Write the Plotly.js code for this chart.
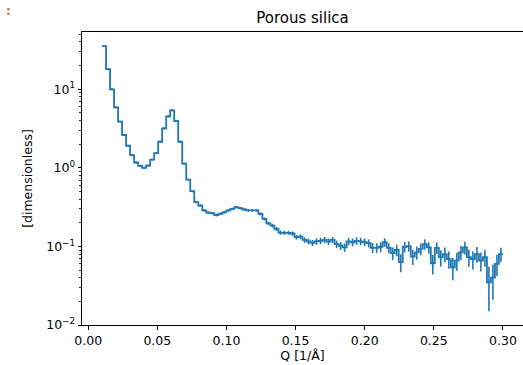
<!DOCTYPE html>
<html>
<head>
<meta charset="utf-8">
<script src="https://cdn.plot.ly/plotly-3.0.1.min.js"></script>
<style>html,body{margin:0;padding:0;background:#fff;}#chart{width:523px;height:365px;}</style>
</head>
<body>
<div id="chart"></div>
<script>
// Q range of the histogram (1/Å) and number of bins
const qMin = 0.01;
const qMax = 0.30;
// Intensity per bin [dimensionless]
const intensity = [
  35.4, 18.0, 10.0, 5.89, 3.87, 2.62, 1.91, 1.45, 1.17, 1.06,
  1.00, 1.07, 1.27, 1.54, 2.15, 3.18, 4.52, 5.4, 3.95, 2.15,
  1.13, 0.707, 0.505, 0.366, 0.332, 0.287, 0.270, 0.265, 0.250, 0.260,
  0.272, 0.287, 0.300, 0.316, 0.307, 0.295, 0.287, 0.287, 0.287, 0.260,
  0.224, 0.197, 0.184, 0.167, 0.150, 0.149, 0.149, 0.146, 0.131, 0.133,
  0.121, 0.116, 0.111, 0.116, 0.118, 0.121, 0.115, 0.121, 0.107, 0.102,
  0.097, 0.116, 0.113, 0.118, 0.116, 0.113, 0.110, 0.096, 0.096, 0.099,
  0.113, 0.096, 0.082, 0.090, 0.063, 0.099, 0.101, 0.074, 0.084, 0.093,
  0.107, 0.097, 0.061, 0.096, 0.0726, 0.080, 0.069, 0.054, 0.066, 0.084,
  0.097, 0.073, 0.069, 0.080, 0.066, 0.073, 0.035, 0.040, 0.060, 0.080
];
// Standard deviation per bin
const errors = [
  1.0, 0.5, 0.3, 0.17, 0.11, 0.08, 0.06, 0.045, 0.035, 0.032,
  0.03, 0.032, 0.038, 0.046, 0.065, 0.095, 0.135, 0.16, 0.12, 0.065,
  0.035, 0.02, 0.016, 0.012, 0.011, 0.010, 0.010, 0.010, 0.010, 0.010,
  0.010, 0.010, 0.011, 0.011, 0.011, 0.011, 0.011, 0.011, 0.011, 0.011,
  0.010, 0.010, 0.010, 0.010, 0.009, 0.009, 0.009, 0.009, 0.009, 0.010,
  0.010, 0.010, 0.010, 0.011, 0.011, 0.011, 0.011, 0.011, 0.012, 0.012,
  0.012, 0.013, 0.013, 0.013, 0.013, 0.013, 0.013, 0.014, 0.014, 0.014,
  0.014, 0.014, 0.015, 0.015, 0.016, 0.015, 0.015, 0.016, 0.016, 0.016,
  0.016, 0.016, 0.017, 0.016, 0.017, 0.017, 0.017, 0.017, 0.017, 0.017,
  0.018, 0.018, 0.018, 0.018, 0.018, 0.018, 0.020, 0.019, 0.018, 0.016
];
const yTickVals = [0.01, 0.1, 1, 10];
const yTickText = ['10<sup>−2</sup>', '10<sup>−1</sup>', '10<sup>0</sup>', '10<sup>1</sup>'];
const xTickVals = [0.00, 0.05, 0.10, 0.15, 0.20, 0.25, 0.30];
const xTickText = ['0.00', '0.05', '0.10', '0.15', '0.20', '0.25', '0.30'];

const nBins = intensity.length;
const width = (qMax - qMin) / nBins;
const edges = [];
for (let i = 0; i <= nBins; i++) edges.push(qMin + i * width);
const centers = intensity.map((_, i) => qMin + (i + 0.5) * width);
const stepY = intensity.concat([intensity[nBins - 1]]);

const color = '#1f77b4';
const font = {family: 'DejaVu Sans, sans-serif', size: 12.5, color: '#000'};

const traces = [
  {x: edges, y: stepY, type: 'scatter', mode: 'lines',
   line: {shape: 'hv', color: color, width: 1.8}, hoverinfo: 'skip'},
  {x: centers, y: intensity, type: 'scatter', mode: 'markers',
   marker: {size: 1, color: color, opacity: 0},
   error_y: {type: 'data', array: errors, visible: true, color: color, thickness: 1.6, width: 0}}
];

const layout = {
  width: 523, height: 365,
  margin: {l: 82, r: 0, t: 32, b: 40},
  paper_bgcolor: '#fff', plot_bgcolor: '#fff',
  showlegend: false,
  font: font,
  title: {text: 'Porous silica', font: {family: 'DejaVu Sans, sans-serif', size: 15, color: '#000'},
          x: 0.5, xref: 'paper', xanchor: 'center', y: 0.951, yref: 'container', yanchor: 'middle'},
  xaxis: {
    range: [-0.0045, 0.3145], tickvals: xTickVals, ticktext: xTickText,
    ticks: 'outside', ticklen: 3.5, tickwidth: 1, tickcolor: '#000',
    showline: true, linecolor: '#000', linewidth: 1, mirror: true,
    showgrid: false, zeroline: false, tickfont: font,
    title: {text: 'Q [1/Å]', font: font, standoff: 4}
  },
  yaxis: {
    type: 'log', range: [-2, 1.729], tickvals: yTickVals, ticktext: yTickText,
    ticks: 'outside', ticklen: 3.5, tickwidth: 1, tickcolor: '#000',
    showline: true, linecolor: '#000', linewidth: 1, mirror: true,
    showgrid: false, zeroline: false, tickfont: font,
    minor: {ticks: 'outside', ticklen: 2, tickwidth: 0.8, tickcolor: '#000', dtick: 'D1', showgrid: false},
    title: {text: '[dimensionless]', font: font, standoff: 10}
  },
  annotations: [
    {text: ':', x: 6, y: 10, xref: 'paper', yref: 'paper', showarrow: false,
     font: {family: 'DejaVu Sans', size: 13, color: '#d2693c'}, xanchor: 'center', yanchor: 'middle',
     visible: false}
  ]
};
// small orange mark at the top-left corner of the image
layout.annotations[0] = {text: '<b>:</b>', x: 8 / 523, y: 1 - 11 / 365, xref: 'paper', yref: 'paper',
  showarrow: false, font: {family: 'DejaVu Sans', size: 12, color: '#d2693c'}, xanchor: 'center', yanchor: 'middle'};
// convert paper coords: paper here is the plot area, so use container via xref 'paper' adjustments
layout.annotations[0].xref = 'x domain';
layout.annotations[0].yref = 'y domain';
layout.annotations[0].x = (8 - 82) / 441;
layout.annotations[0].y = (325 - 11) / 293;

Plotly.newPlot('chart', traces, layout, {displayModeBar: false, staticPlot: true});
</script>
</body>
</html>
